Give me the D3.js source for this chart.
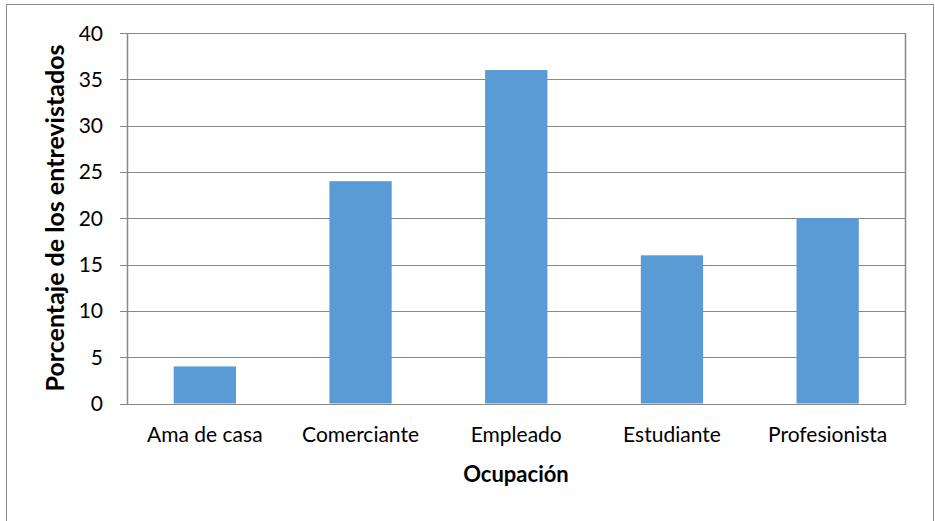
<!DOCTYPE html>
<html><head><meta charset="utf-8">
<script src="https://cdn.jsdelivr.net/npm/d3@7"></script>
<style>body{margin:0;background:#fff}svg{display:block}text{font-family:Lato,"Open Sans",sans-serif}</style>
</head><body>
<svg id="c" width="935" height="521"></svg>
<script>
const categories = ["Ama de casa","Comerciante","Empleado","Estudiante","Profesionista"];
const values = [4,24,36,16,20];
const yTicks = [0,5,10,15,20,25,30,35,40];
const xTitle = "Ocupación";
const yTitle = "Porcentaje de los entrevistados";

const svg = d3.select("#c");
svg.append("rect").attr("x",6.5).attr("y",4.5).attr("width",927).attr("height",530)
  .attr("fill","#fff").attr("stroke","#8c8c8c").attr("stroke-width",1);

const m = {l:127, r:905.5, t:33, b:403.5};
const x = d3.scaleBand().domain(categories).range([m.l,m.r]).paddingInner(0.6).paddingOuter(0.3);
const y = d3.scaleLinear().domain([0,40]).range([m.b,m.t]);

const g = svg.append("g");
g.selectAll("line.grid").data(yTicks).join("line")
  .attr("x1",m.l-7).attr("x2",m.r).attr("y1",d=>Math.round(y(d))+0.5).attr("y2",d=>Math.round(y(d))+0.5)
  .attr("stroke","#888").attr("stroke-width",1);
g.append("line").attr("x1",m.r).attr("x2",m.r).attr("y1",m.t).attr("y2",m.b+1).attr("stroke","#888").attr("stroke-width",1.5);
g.selectAll("rect.bar").data(values).join("rect")
  .attr("x",(d,i)=>x(categories[i])).attr("width",x.bandwidth())
  .attr("y",d=>y(d)).attr("height",d=>y(0)-y(d)).attr("fill","#5b9bd5");
g.append("line").attr("x1",m.l+0.5).attr("x2",m.l+0.5).attr("y1",m.t).attr("y2",m.b+1).attr("stroke","#888").attr("stroke-width",1.5);
g.selectAll("text.yt").data(yTicks).join("text")
  .attr("x",103).attr("y",d=>y(d)).attr("dy","0.36em").attr("text-anchor","end")
  .attr("font-size",21).attr("fill","#000").text(d=>d);
g.selectAll("text.xt").data(categories).join("text")
  .attr("x",d=>x(d)+x.bandwidth()/2).attr("y",442).attr("text-anchor","middle")
  .attr("font-size",21).attr("fill","#000").text(d=>d);
svg.append("text").attr("x",516).attr("y",482).attr("text-anchor","middle")
  .attr("font-size",22).attr("font-weight","bold").text(xTitle);
svg.append("text").attr("transform","translate(64,218) rotate(-90)").attr("text-anchor","middle")
  .attr("font-size",25).attr("font-weight","bold").text(yTitle);
</script>
</body></html>
